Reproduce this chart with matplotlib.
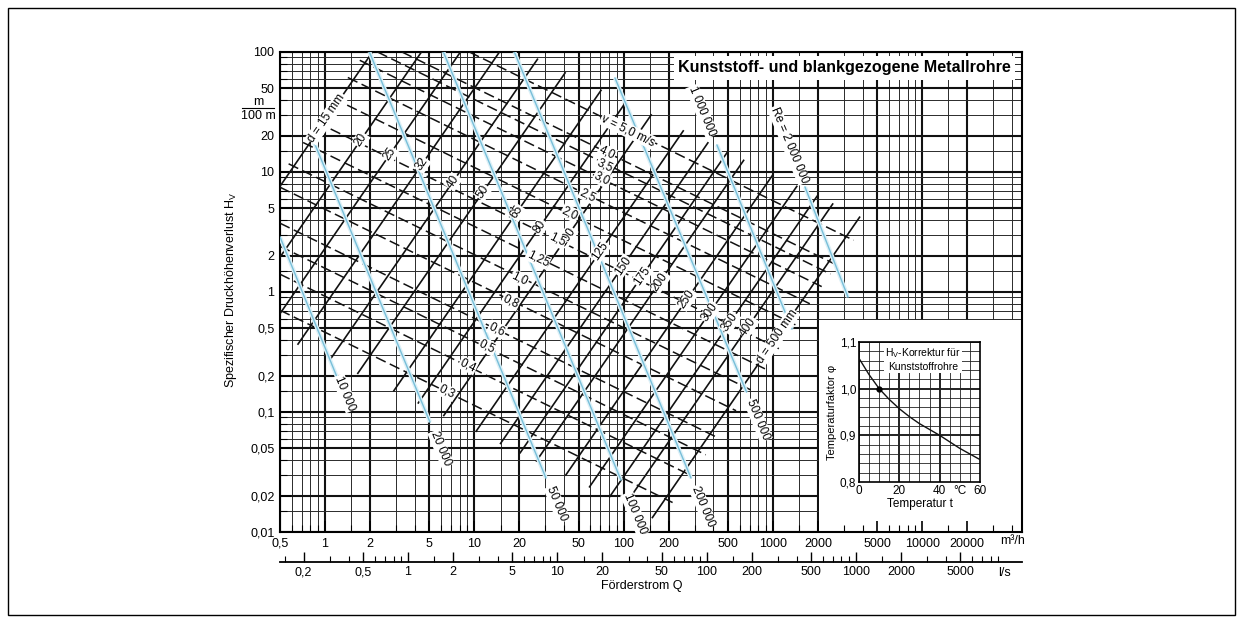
import numpy as np
import matplotlib
matplotlib.use("Agg")
import matplotlib.pyplot as plt
from matplotlib.ticker import FixedLocator, FuncFormatter, NullFormatter
from matplotlib.patches import Rectangle
from matplotlib.lines import Line2D

plt.rcParams['font.family'] = ['Liberation Sans', 'DejaVu Sans']

# pipe diameter lines (solid), endpoints in (Q m3/h, Hv m/100m)
d_names = ["d = 15 mm", "20", "25", "32", "40", "50", "65", "80", "100", "125",
           "150", "175", "200", "250", "300", "350", "400", "d = 500 mm"]
d_q0 = [0.5, 0.5, 0.5, 0.66, 1.08, 1.66, 2.89, 4.22, 6.25, 10.3, 15.0, 20.3, 26.1, 41.0, 59.2, 80.8, 103, 156]
d_h0 = [7.6, 1.95, 0.66, 0.368, 0.272, 0.210, 0.150, 0.119, 0.0935, 0.0692, 0.0547, 0.0457, 0.0391,
        0.0298, 0.0238, 0.0197, 0.0170, 0.0132]
d_q1 = [2.08, 4.43, 8.08, 14.75, 26.5, 40.6, 70.6, 103, 153, 251, 367, 495, 637, 1000, 1446, 1974, 2515, 3808]
d_h1 = [100, 100, 100, 100, 87, 67, 47.9, 37.9, 29.9, 22.0, 17.5, 14.6, 12.5, 9.5, 7.59, 6.27, 5.41, 4.20]
d_lab_q = [1.03, 1.74, 2.73, 4.46, 7.2, 11.4, 19.3, 27.5, 41.8, 69.5, 99.1, 132.8, 175.3, 266, 379, 516, 681, 1065]
d_lab_h = [28.2, 18.55, 14.05, 11.57, 8.29, 6.81, 4.62, 3.50, 2.88, 2.18, 1.65, 1.358, 1.215, 0.870, 0.677,
           0.558, 0.513, 0.422]

# flow velocity lines (dashed)
v_names = ["v = 5,0 m/s", "4,0", "3,5", "3,0", "2,5", "2,0", "1,5", "1,25", "1,0", "0,8", "0,6", "0,5", "0,4", "0,3"]
v_q0 = [9.27, 3.28, 2.25, 1.711, 1.423, 1.140, 0.884, 0.714, 0.571, 0.5, 0.5, 0.5, 0.5, 0.5]
v_h0 = [100, 100, 100, 85.3, 61.3, 41.05, 25.96, 17.61, 11.70, 7.47, 3.744, 2.408, 1.407, 0.705]
v_q1 = [3477, 2671, 2431, 2123, 1767, 1415, 1097, 885, 709, 567, 426, 355, 284, 213]
v_h1 = [2.697, 1.681, 1.413, 1.109, 0.798, 0.533, 0.337, 0.229, 0.153, 0.1025, 0.0612, 0.0440, 0.0295, 0.0176]
v_lab_q = [107.0, 77.4, 75.1, 71.7, 57.8, 43.8, 35.8, 26.7, 20.2, 17.6, 14.2, 12.2, 9.07, 6.56]
v_lab_h = [22.1, 14.57, 11.33, 8.74, 6.42, 4.53, 2.72, 1.90, 1.288, 0.835, 0.487, 0.351, 0.245, 0.147]

# Reynolds number lines (blue)
re_names = ["10 000", "20 000", "50 000", "100 000", "200 000", "500 000", "1 000 000", "Re = 2 000 000"]
re_q0 = [0.5, 0.818, 1.984, 6.21, 18.56, 87.6, 422, 1641]
re_h0 = [2.873, 19.57, 100, 100, 100, 60.7, 16.79, 7.50]
re_q1 = [1.203, 5.05, 30.2, 96.1, 282.8, 666, 1342, 3184]
re_h1 = [0.196, 0.0825, 0.0282, 0.0271, 0.0282, 0.147, 0.492, 0.909]
re_lab_q = [1.361, 5.98, 35.8, 119.2, 340, 795, 335, 1282]
re_lab_h = [0.1434, 0.0495, 0.0171, 0.0142, 0.0163, 0.0863, 32.1, 16.8]

# inset: temperature correction for plastic pipes
temp_t = [0, 5, 10, 15, 20, 25, 30, 40, 50, 60]
temp_phi = [1.065, 1.03, 1.0, 0.977, 0.957, 0.94, 0.925, 0.9, 0.872, 0.848]

q_ticks = [0.5, 1, 2, 5, 10, 20, 50, 100, 200, 500, 1000, 2000, 5000, 10000, 20000]
h_ticks = [0.01, 0.02, 0.05, 0.1, 0.2, 0.5, 1, 2, 5, 10, 20, 50, 100]
ls_ticks = [0.2, 0.5, 1, 2, 5, 10, 20, 50, 100, 200, 500, 1000, 2000, 5000]

Q_MAX = 46600
FS = 9


def comma(v, pos=None):
    return f"{v:g}".replace(".", ",")


def minor_vals(lo, hi):
    out = []
    for e in range(-3, 6):
        for m in [1.5, 3, 4, 6, 7, 8, 9]:
            val = m * 10.0 ** e
            if lo < val < hi:
                out.append(val)
    return out


def major_vals(lo, hi):
    out = []
    for e in range(-3, 6):
        for m in [1, 2, 5]:
            val = m * 10.0 ** e
            if lo <= val <= hi:
                out.append(val)
    return out


fig = plt.figure(figsize=(12.43, 6.23), dpi=100)
ax = fig.add_axes([0.22526, 0.14607, 0.59694, 0.77047])
ax.set_xscale('log')
ax.set_yscale('log')
ax.set_xlim(0.5, Q_MAX)
ax.set_ylim(0.01, 100)

# grid drawn by hand so the inset box can hide it but not the ticks
for q in minor_vals(0.5, Q_MAX):
    ax.axvline(q, color='#2a2a2a', lw=0.7, zorder=1)
for q in major_vals(0.5, Q_MAX):
    ax.axvline(q, color='#111111', lw=1.5, zorder=1)
for h in minor_vals(0.01, 100):
    ax.axhline(h, color='#2a2a2a', lw=0.7, zorder=1)
for h in major_vals(0.01, 100):
    ax.axhline(h, color='#111111', lw=1.5, zorder=1)

ax.xaxis.set_major_locator(FixedLocator(q_ticks))
ax.xaxis.set_minor_locator(FixedLocator(minor_vals(0.5, Q_MAX)))
ax.xaxis.set_major_formatter(FuncFormatter(comma))
ax.xaxis.set_minor_formatter(NullFormatter())
ax.yaxis.set_major_locator(FixedLocator(h_ticks))
ax.yaxis.set_minor_locator(FixedLocator(minor_vals(0.01, 100)))
ax.yaxis.set_major_formatter(FuncFormatter(comma))
ax.yaxis.set_minor_formatter(NullFormatter())
ax.tick_params(which='major', direction='in', length=8, width=1.2, labelsize=FS, pad=4)
ax.tick_params(which='minor', direction='in', length=5, width=0.8)
ax.set_axisbelow(False)
for sp in ax.spines.values():
    sp.set_linewidth(1.5)

# white field behind the inset
ax.add_patch(Rectangle((2030, 0.01), Q_MAX - 2030, 0.585 - 0.01, fc='white', ec='none', zorder=2))

for i in range(len(d_names)):
    ax.plot([d_q0[i], d_q1[i]], [d_h0[i], d_h1[i]], color='#111111', lw=1.2, zorder=3)
for i in range(len(v_names)):
    ax.plot([v_q0[i], v_q1[i]], [v_h0[i], v_h1[i]], color='#111111', lw=1.1,
            ls=(0, (7, 3)), zorder=3)
for i in range(len(re_names)):
    ax.plot([re_q0[i], re_q1[i]], [re_h0[i], re_h1[i]], color='#dcf0f7', lw=3.0, zorder=3.2,
            solid_capstyle='butt')
    ax.plot([re_q0[i], re_q1[i]], [re_h0[i], re_h1[i]], color='#78bfd9', lw=1.0, zorder=3.3)

box = dict(fc='white', ec='none', pad=0.6)
for i, s in enumerate(d_names):
    ax.text(d_lab_q[i], d_lab_h[i], s, rotation=55.4, rotation_mode='anchor', ha='center',
            va='center', fontsize=8.5, bbox=box, zorder=5)
for i, s in enumerate(v_names):
    ax.text(v_lab_q[i], v_lab_h[i], s, rotation=-26.1, rotation_mode='anchor', ha='center',
            va='center', fontsize=8.5, bbox=box, zorder=5)
for i, s in enumerate(re_names):
    ax.text(re_lab_q[i], re_lab_h[i], s, rotation=-67.5, rotation_mode='anchor', ha='center',
            va='center', fontsize=8.5, bbox=box, zorder=5)

ax.text(0.5364, 0.9667, "Kunststoff- und blankgezogene Metallrohre", transform=ax.transAxes,
        ha='left', va='center', fontsize=11.6, fontweight='bold', zorder=6,
        bbox=dict(fc='white', ec='none', pad=3))

# second flow scale in l/s
sec = ax.secondary_xaxis(-0.0625, functions=(lambda q: q / 3.6, lambda l: l * 3.6))
sec.xaxis.set_major_locator(FixedLocator(ls_ticks))
sec.xaxis.set_minor_locator(FixedLocator(minor_vals(0.1, 20000)))
sec.xaxis.set_major_formatter(FuncFormatter(comma))
sec.xaxis.set_minor_formatter(NullFormatter())
sec.tick_params(which='major', direction='in', length=7, width=1.0, labelsize=FS, pad=3)
sec.tick_params(which='minor', direction='in', length=4, width=0.8)
sec.spines['bottom'].set_linewidth(1.3)

fig.text(0.8045, 0.1316, "m³/h", fontsize=FS, ha='left', va='center')
fig.text(0.8029, 0.0803, "l/s", fontsize=FS, ha='left', va='center')
fig.text(0.5165, 0.0594, "Förderstrom Q", fontsize=FS, ha='center', va='center')
fig.text(0.1858, 0.5345, r"Spezifischer Druckhöhenverlust H$_\mathregular{V}$", fontsize=FS,
         rotation=90, ha='center', va='center')
fig.text(0.2076, 0.8363, "m", fontsize=FS, ha='center', va='center')
fig.text(0.2076, 0.8138, "100 m", fontsize=FS, ha='center', va='center')
fig.add_artist(Line2D([0.1947, 0.2204], [0.8266, 0.8266], color='black', lw=0.8))

# inset
axin = fig.add_axes([0.69107, 0.22632, 0.09734, 0.22472])
axin.set_zorder(10)
axin.set_xlim(0, 60)
axin.set_ylim(0.8, 1.1)
for t in range(0, 61, 5):
    axin.axvline(t, color='#222222', lw=1.4 if t in (20, 40) else 0.6, zorder=1)
for k in range(16):
    p = 0.8 + 0.02 * k
    axin.axhline(p, color='#222222', lw=1.4 if k in (5, 10) else 0.6, zorder=1)
axin.plot(temp_t, temp_phi, color='#111111', lw=1.0, zorder=3)
axin.plot([10], [1.0], 'o', color='black', ms=3.5, zorder=4)
axin.set_xticks([0, 20, 40, 50, 60])
axin.set_xticklabels(['0', '20', '40', '°C', '60'])
axin.set_yticks([0.8, 0.9, 1.0, 1.1])
axin.set_yticklabels(['0,8', '0,9', '1,0', '1,1'])
axin.tick_params(length=0, labelsize=8.5, pad=2)
axin.set_xlabel("Temperatur t", fontsize=8.5, labelpad=1)
axin.set_ylabel("Temperaturfaktor φ", fontsize=8, labelpad=2)
for sp in axin.spines.values():
    sp.set_linewidth(1.2)
axin.text(0.53, 0.88, "H$_\\mathregular{V}$-Korrektur für\nKunststoffrohre", transform=axin.transAxes,
          ha='center', va='center', fontsize=7.5, linespacing=1.2, zorder=5,
          bbox=dict(fc='white', ec='none', pad=1))

fig.add_artist(Rectangle((0.0064, 0.0128), 0.9872, 0.9744, transform=fig.transFigure,
                         fill=False, ec='black', lw=1.0))

fig.savefig("out.png", dpi=100)
